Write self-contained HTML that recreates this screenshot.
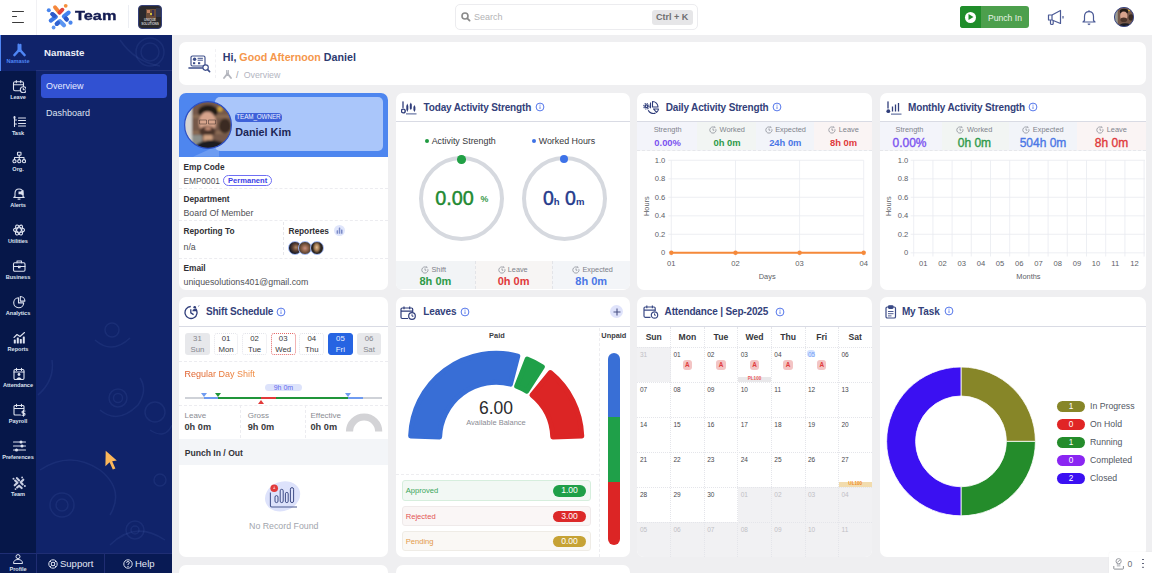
<!DOCTYPE html>
<html><head><meta charset="utf-8">
<style>
*{box-sizing:border-box;margin:0;padding:0}
html,body{width:1152px;height:573px;overflow:hidden}
body{background:#efeff1;font-family:"Liberation Sans",Arial,sans-serif;position:relative;color:#222}
.abs{position:absolute}
#hdr{left:0;top:0;width:1152px;height:35px;background:#fff}
#rail{left:0;top:35px;width:36px;height:538px;background:#061749}
#panel{left:36px;top:35px;width:136px;height:538px;background:#10236a}
.rl{left:0;width:36px;text-align:center;font:5.6px/6px 'Liberation Sans',sans-serif;font-weight:bold;white-space:nowrap;letter-spacing:-0.05px}
.pl{left:4.5px;font:bold 8.3px/10px 'Liberation Sans',sans-serif;color:#303035;white-space:nowrap}
.pv{left:4.5px;font:8.8px/10px 'Liberation Sans',sans-serif;color:#505055;white-space:nowrap}
.ct{font:bold 10px/12px 'Liberation Sans',sans-serif;color:#33417a;white-space:nowrap;letter-spacing:-0.15px}
.sl{font:7.3px/8px 'Liberation Sans',sans-serif;color:#7d8089;white-space:nowrap}
.sv{font:bold 11px/12px 'Liberation Sans',sans-serif;text-align:center;white-space:nowrap}
.sl2{font:7.4px/8px 'Liberation Sans',sans-serif;color:#80838c;white-space:nowrap;text-align:center}
.svd{top:44.4px;font:bold 9.4px/11px 'Liberation Sans',sans-serif;text-align:center;white-space:nowrap}
.svm{top:43.4px;font:12px/14px 'Liberation Sans',sans-serif;text-align:center;white-space:nowrap;-webkit-text-stroke:0.35px currentColor}
.pill{width:24.8px;height:22.4px;border-radius:3px;font:7.8px/9.6px 'Liberation Sans',sans-serif;text-align:center;padding-top:0px;border:1px solid transparent}
.pill div+div{margin-top:1.2px}
.card{position:absolute;background:#fff;border-radius:7px;overflow:hidden}
</style></head><body>
<div id="hdr" class="abs">
<div class="abs" style="left:12px;top:10.6px;width:12px;height:1.4px;background:#3a3a3a;border-radius:1px"></div>
<div class="abs" style="left:12px;top:16.1px;width:5px;height:1.4px;background:#3a3a3a;border-radius:1px"></div>
<div class="abs" style="left:12px;top:21.6px;width:12px;height:1.4px;background:#3a3a3a;border-radius:1px"></div>
<div class="abs" style="left:36px;top:0;width:1px;height:35px;background:#f1f1f4"></div>
<svg class="abs" style="left:45px;top:2px" width="30" height="29" viewBox="45 2 30 29">
 <g stroke-linecap="round" stroke-linejoin="round" fill="none">
  <path d="M52.4 14.1 L55.8 16.8 L50.8 20.6" stroke="#3d78e6" stroke-width="4.2"/>
  <path d="M52.4 14.1 L54.5 15.8" stroke="#2d58c8" stroke-width="4.2"/>
  <path d="M68.6 12.6 L63.9 16.4 L66.7 19.4" stroke="#4382ee" stroke-width="4.2"/>
  <path d="M66 18.6 L66.7 19.4" stroke="#2d58c8" stroke-width="4.2"/>
  <path d="M56.8 23.8 L59.9 21.1 L64 25.3" stroke="#5b95f1" stroke-width="4.2"/>
  <path d="M56.8 23.8 L58 22.8" stroke="#2f62d2" stroke-width="4.2"/>
  <path d="M55 7.3 L59.3 12.4" stroke="#f5873a" stroke-width="3.9"/>
  <path d="M59.6 12.6 L62.4 9.7" stroke="#e2453e" stroke-width="3.9"/>
 </g>
 <circle cx="48.8" cy="10.3" r="2" fill="#4a86ee"/>
 <circle cx="53.6" cy="27.5" r="1.9" fill="#5c94f1"/>
 <circle cx="70.5" cy="22.7" r="2.1" fill="#4a86ee"/>
 <circle cx="65.7" cy="5.8" r="1.9" fill="#f5903c"/>
</svg>
<div class="abs" style="left:74.6px;top:8px;font:bold 13.6px/16px 'Liberation Sans',sans-serif;color:#141c52;transform:scaleX(1.2);transform-origin:0 0;-webkit-text-stroke:0.35px #141c52">Team</div>
<div class="abs" style="left:128px;top:5px;width:1px;height:23px;background:#eceef3"></div>
<div class="abs" style="left:138px;top:5px;width:24px;height:23.5px;border-radius:4px;background:#2a292d;border:1px solid #34407a;overflow:hidden">
 <div class="abs" style="left:6.5px;top:2.5px;width:10px;height:10.5px;background:#6a4c38"></div>
 <div class="abs" style="left:8px;top:4px;width:3px;height:3px;background:#c08060"></div>
 <div class="abs" style="left:11px;top:7px;width:2px;height:2px;background:#d0c040"></div>
 <div class="abs" style="left:13px;top:4px;width:2px;height:6px;background:#3a3050"></div>
 <div class="abs" style="left:16.5px;top:2px;width:5px;height:9px;background:#343a56;opacity:0.8"></div>
 <div class="abs" style="left:0;width:22px;top:13.2px;font:bold 3.2px/3.4px 'Liberation Sans',sans-serif;color:#c8c8c8;text-align:center;letter-spacing:-0.1px">UNIQUE<br>SOLUTIONS</div>
</div>
<div class="abs" style="left:455px;top:4px;width:243px;height:26px;border:1px solid #ececef;border-radius:5px;background:#fff"></div>
<svg class="abs" style="left:461px;top:12px" width="10" height="10" viewBox="0 0 10 10"><circle cx="4" cy="4" r="3" stroke="#8a8a8a" stroke-width="1.6" fill="none"/><path d="M6.3 6.3 L8.6 8.6" stroke="#8a8a8a" stroke-width="1.8" stroke-linecap="round"/></svg>
<div class="abs" style="left:474px;top:12px;font:9px/10px 'Liberation Sans',sans-serif;color:#b3b3b6">Search</div>
<div class="abs" style="left:652px;top:10px;width:40.5px;height:15px;background:#e6e6e8;border-radius:3px;font:bold 9px/15px 'Liberation Sans',sans-serif;color:#6e6e70;text-align:center">Ctrl + K</div>
<div class="abs" style="left:959.5px;top:6px;width:69.5px;height:22px;border-radius:3px;background:#4c9f4c;overflow:hidden">
 <div class="abs" style="left:0;top:0;width:21.5px;height:22px;background:#1f8d2a"></div>
 <div class="abs" style="left:5.3px;top:5.5px;width:11px;height:11px;border-radius:50%;background:#fff"></div>
 <svg class="abs" style="left:8.5px;top:8px" width="6" height="6" viewBox="0 0 6 6"><path d="M0.5 0 L5.5 3 L0.5 6Z" fill="#1f8d2a"/></svg>
 <div class="abs" style="left:28.5px;top:6.7px;font:8.6px/10px 'Liberation Sans',sans-serif;color:#e9f3e9">Punch In</div>
</div>
<svg class="abs" style="left:1047px;top:9px" width="18" height="17" viewBox="0 0 18 17" fill="none" stroke="#4b5a96" stroke-width="1.2" stroke-linejoin="round">
 <path d="M1.5 6 H5 L13.5 1.5 V14.5 L5 11 H1.5 Z"/><path d="M5 6 V11"/><path d="M3.5 11 V14.5 Q3.5 15.5 4.8 15.5 Q6.2 15.5 6.2 14.5 V12"/><path d="M16 7 V9.5"/>
</svg>
<svg class="abs" style="left:1081px;top:9px" width="16" height="17" viewBox="0 0 16 17" fill="none" stroke="#4b5a96" stroke-width="1.2" stroke-linejoin="round">
 <path d="M8 1.2 V2.4"/><path d="M3.5 11.5 V7.5 Q3.5 2.6 8 2.6 Q12.5 2.6 12.5 7.5 V11.5 L14 13 H2 Z"/><path d="M6.8 14.6 L8 15.6 L9.2 14.6"/>
</svg>
<svg class="abs" style="left:1113.8px;top:7.2px" width="20" height="20" viewBox="0 0 48 48">
<defs><clipPath id="avc2"><circle cx="24" cy="24" r="23.4"/></clipPath><filter id="avb2" x="-10%" y="-10%" width="120%" height="120%"><feGaussianBlur stdDeviation="1.6"/></filter></defs>
<g clip-path="url(#avc2)"><g filter="url(#avb2)">
<rect x="0" y="0" width="48" height="48" fill="#75584a"/>
<rect x="0" y="0" width="9" height="48" fill="#9a9a92"/>
<ellipse cx="41" cy="25" rx="6" ry="7.5" fill="#3a2c22"/>
<circle cx="36" cy="8" r="2.6" fill="#d2a840"/>
<ellipse cx="24" cy="10.5" rx="10" ry="6.5" fill="#231b18"/>
<ellipse cx="23.5" cy="21.5" rx="8.6" ry="11" fill="#d7a48c"/>
<ellipse cx="23.5" cy="30.5" rx="8" ry="5.5" fill="#4c342a"/>
<ellipse cx="27" cy="51" rx="18" ry="12" fill="#1c1d24"/>
</g></g>
<circle cx="24" cy="24" r="23" fill="none" stroke="#3c4a8a" stroke-width="2.4"/>
</svg>
</div>
<div id="panel" class="abs"></div>
<svg class="abs" style="left:36px;top:35px" width="136" height="518" viewBox="36 35 136 518" fill="none" stroke="rgba(120,145,225,0.10)" stroke-width="1.5">
<circle cx="150" cy="52" r="14"/><circle cx="150" cy="52" r="9"/><path d="M120 40 Q135 62 160 66"/>
<circle cx="112" cy="330" r="7"/><path d="M95 340 Q112 355 130 338"/>
<circle cx="118" cy="398" r="9"/><circle cx="118" cy="398" r="4.5"/><path d="M100 410 Q118 425 138 405 Q148 390 140 378"/>
<circle cx="155" cy="412" r="10"/><path d="M150 430 Q165 440 172 425"/>
<path d="M40 470 Q70 450 100 470 Q125 490 110 515"/><circle cx="62" cy="505" r="12"/><circle cx="62" cy="505" r="6"/>
<circle cx="135" cy="530" r="9"/><circle cx="135" cy="530" r="4"/><path d="M110 545 Q135 520 165 540"/>
<path d="M38 395 Q55 380 52 360"/><circle cx="160" cy="480" r="6"/>
</svg>
<div class="abs" style="left:44px;top:47px;font:bold 9.7px/12px 'Liberation Sans',sans-serif;color:#eef0f8">Namaste</div>
<div class="abs" style="left:36px;top:70px;width:136px;height:1px;background:#23337a"></div>
<div class="abs" style="left:41px;top:73.5px;width:126px;height:24.5px;border-radius:3.5px;background:#3151d2"></div>
<div class="abs" style="left:46px;top:80.5px;font:9px/10px 'Liberation Sans',sans-serif;color:#e6ebff">Overview</div>
<div class="abs" style="left:46px;top:107.7px;font:9px/10px 'Liberation Sans',sans-serif;color:#dfe3f0">Dashboard</div>
<svg class="abs" style="left:104px;top:449px" width="16" height="22" viewBox="104 449 16 22"><path d="M105.7 450.7 L105.4 466.3 L109.6 462.3 L112.8 469.6 L115.4 468.4 L112.2 461.2 L116.8 460.6 Z" fill="#fbb75a"/></svg>
<div id="rail" class="abs"></div>
<div class="abs" style="left:0;top:35px;width:36px;height:36px;background:#10236a;border-left:1.5px solid #4f86f5"></div>
<svg class="abs" style="left:11.5px;top:42.5px" width="14" height="14" viewBox="-0.5 -0.5 14 14"><path d="M6 1 V6.5 M8 1.3 V6.5" stroke="#4f86f5" stroke-width="2" stroke-linecap="round"/><path d="M7 6 L2 11.5 M7 6 L12 11.5" stroke="#4f86f5" stroke-width="2.6" stroke-linecap="round"/></svg>
<div class="abs rl" style="top:57.5px;color:#4f86f5">Namaste</div>
<svg class="abs" style="left:11.5px;top:78.50px" width="14" height="14" viewBox="-0.5 -0.5 14 14"><g fill="none" stroke="#dde2ef" stroke-width="1.1" stroke-linecap="round" stroke-linejoin="round"><rect x="1" y="2.2" width="10" height="9" rx="1.5"/><path d="M1 5.2 H11 M3.8 1 V3.2 M8.2 1 V3.2"/></g><circle cx="10.8" cy="10.2" r="3" fill="#061749" stroke="#dde2ef" stroke-width="1.1"/><path d="M10.8 8.8 V10.3 H12" fill="none" stroke="#dde2ef" stroke-width="1.1" stroke-linecap="round" stroke-linejoin="round"/></svg>
<div class="abs rl" style="top:93.50px;color:#dde2ef">Leave</div>
<svg class="abs" style="left:11.5px;top:114.59px" width="14" height="14" viewBox="-0.5 -0.5 14 14"><g fill="none" stroke="#dde2ef" stroke-width="1.1" stroke-linecap="round" stroke-linejoin="round"><path d="M2 1 V11 M2 4.5 H4 M2 8.5 H4 M6 2.5 H13 M6 5 H13 M6 8 H13 M6 10.5 H13"/></g><rect x="1" y="1" width="2" height="2" fill="#dde2ef"/></svg>
<div class="abs rl" style="top:129.59px;color:#dde2ef">Task</div>
<svg class="abs" style="left:11.5px;top:150.68px" width="14" height="14" viewBox="-0.5 -0.5 14 14"><g fill="none" stroke="#dde2ef" stroke-width="1.1" stroke-linecap="round" stroke-linejoin="round"><rect x="5" y="0.8" width="3.5" height="3" rx="0.5"/><path d="M6.75 3.8 V6 M2 8 V6 H11.5 V8 M6.75 6 V8"/><circle cx="2" cy="9.7" r="1.6"/><circle cx="6.75" cy="9.7" r="1.6"/><circle cx="11.5" cy="9.7" r="1.6"/></g></svg>
<div class="abs rl" style="top:165.68px;color:#dde2ef">Org.</div>
<svg class="abs" style="left:11.5px;top:186.77px" width="14" height="14" viewBox="-0.5 -0.5 14 14"><g fill="none" stroke="#dde2ef" stroke-width="1.1" stroke-linecap="round" stroke-linejoin="round"><path d="M2.5 9 V6 Q2.5 1.5 6.5 1.5 Q10.5 1.5 10.5 6 V9 L11.7 10 H1.3 Z"/><path d="M5.5 11.6 H7.5"/></g><path d="M6 4 H8 L11 2.5 V8 L8 6.8 H6 Z" fill="#dde2ef"/></svg>
<div class="abs rl" style="top:201.77px;color:#dde2ef">Alerts</div>
<svg class="abs" style="left:11.5px;top:222.86px" width="14" height="14" viewBox="-0.5 -0.5 14 14"><g fill="none" stroke="#dde2ef" stroke-width="1.1" stroke-linecap="round" stroke-linejoin="round"><ellipse cx="6.5" cy="6.5" rx="5.5" ry="2.3"/><ellipse cx="6.5" cy="6.5" rx="5.5" ry="2.3" transform="rotate(60 6.5 6.5)"/><ellipse cx="6.5" cy="6.5" rx="5.5" ry="2.3" transform="rotate(120 6.5 6.5)"/></g></svg>
<div class="abs rl" style="top:237.86px;color:#dde2ef">Utilities</div>
<svg class="abs" style="left:11.5px;top:258.95px" width="14" height="14" viewBox="-0.5 -0.5 14 14"><g fill="none" stroke="#dde2ef" stroke-width="1.1" stroke-linecap="round" stroke-linejoin="round"><rect x="1" y="3.3" width="11.5" height="8.5" rx="1.2"/><path d="M4.5 3.3 V1.5 H9 V3.3 M1 7 H12.5 M6 6.5 V8.3 H7.5 V6.5"/></g></svg>
<div class="abs rl" style="top:273.95px;color:#dde2ef">Business</div>
<svg class="abs" style="left:11.5px;top:295.05px" width="14" height="14" viewBox="-0.5 -0.5 14 14"><g fill="none" stroke="#dde2ef" stroke-width="1.1" stroke-linecap="round" stroke-linejoin="round"><path d="M6 2.2 A5 5 0 1 0 11.2 7.4 H6 Z"/><path d="M7.8 1 A4.6 4.6 0 0 1 12.4 5.6 H7.8 Z"/></g></svg>
<div class="abs rl" style="top:310.05px;color:#dde2ef">Analytics</div>
<svg class="abs" style="left:11.5px;top:331.14px" width="14" height="14" viewBox="-0.5 -0.5 14 14"><g fill="none" stroke="#dde2ef" stroke-width="1.1" stroke-linecap="round" stroke-linejoin="round"><path d="M1.5 6 L4.5 3 L7.5 5 L12 1"/></g><g fill="#dde2ef"><rect x="1.3" y="8" width="2" height="4" rx="0.6"/><rect x="4.3" y="6" width="2" height="6" rx="0.6"/><rect x="7.3" y="7.5" width="2" height="4.5" rx="0.6"/><rect x="10.3" y="5" width="2" height="7" rx="0.6"/></g></svg>
<div class="abs rl" style="top:346.14px;color:#dde2ef">Reports</div>
<svg class="abs" style="left:11.5px;top:367.23px" width="14" height="14" viewBox="-0.5 -0.5 14 14"><g fill="none" stroke="#dde2ef" stroke-width="1.1" stroke-linecap="round" stroke-linejoin="round"><rect x="1.5" y="2" width="10" height="10" rx="1.2"/><path d="M4 0.8 V3 M9 0.8 V3 M1.5 4.5 H11.5"/></g><circle cx="6.5" cy="7" r="1.4" fill="#dde2ef"/><path d="M3.8 11.5 Q6.5 7.8 9.2 11.5Z" fill="#dde2ef"/></svg>
<div class="abs rl" style="top:382.23px;color:#dde2ef">Attendance</div>
<svg class="abs" style="left:11.5px;top:403.32px" width="14" height="14" viewBox="-0.5 -0.5 14 14"><g fill="none" stroke="#dde2ef" stroke-width="1.1" stroke-linecap="round" stroke-linejoin="round"><path d="M8 11.5 H2.5 Q1.5 11.5 1.5 10.5 V3 Q1.5 2 2.5 2 H10.5 Q11.5 2 11.5 3 V6 M1.5 5 H11.5 M4 0.8 V3 M9 0.8 V3"/><path d="M12.5 7.5 H10.5 Q9.5 7.5 9.5 8.6 Q9.5 9.6 10.5 9.6 H11.5 Q12.5 9.6 12.5 10.7 Q12.5 11.8 11.5 11.8 H9.5 M11 6.8 V12.6"/></g></svg>
<div class="abs rl" style="top:418.32px;color:#dde2ef">Payroll</div>
<svg class="abs" style="left:11.5px;top:439.41px" width="14" height="14" viewBox="-0.5 -0.5 14 14"><g fill="none" stroke="#dde2ef" stroke-width="1.1" stroke-linecap="round" stroke-linejoin="round"><path d="M1 2.5 H13 M1 6.5 H13 M1 10.5 H13"/></g><g fill="#dde2ef"><circle cx="8.5" cy="2.5" r="1.5"/><circle cx="9.5" cy="6.5" r="1.5"/><circle cx="4" cy="10.5" r="1.5"/></g></svg>
<div class="abs rl" style="top:454.41px;color:#dde2ef">Preferences</div>
<svg class="abs" style="left:11.5px;top:475.50px" width="14" height="14" viewBox="-0.5 -0.5 14 14"><g stroke="#c9cfe2" stroke-width="2.1" stroke-linecap="round" stroke-linejoin="round" fill="none"><path d="M2.6 4 L5 6.2 L2.2 8.8"/><path d="M10.8 3.2 L8.2 5.8 L10.2 8"/><path d="M4.6 11 L6.6 9.2 L9.2 11.6"/><path d="M4.4 1.6 L6.6 4"/></g><g fill="#c9cfe2"><circle cx="1" cy="2.2" r="1"/><circle cx="9.6" cy="1" r="0.9"/><circle cx="12.4" cy="9.6" r="1"/><circle cx="3" cy="12.6" r="0.9"/></g></svg>
<div class="abs rl" style="top:490.50px;color:#dde2ef">Team</div>

<div class="abs" style="left:0;top:552.5px;width:172px;height:20.5px;background:#081a54;border-top:1px solid #1f2e74"></div>
<div class="abs" style="left:36px;top:553px;width:1px;height:20px;background:#1f2d72"></div>
<div class="abs" style="left:104px;top:553px;width:1px;height:20px;background:#1f2d72"></div>
<svg class="abs" style="left:12px;top:554px" width="12" height="10" viewBox="0 0 12 10" fill="none" stroke="#dde2ef" stroke-width="1"><circle cx="6" cy="2.6" r="2"/><path d="M1.5 9.5 Q1.5 5.5 6 5.5 Q10.5 5.5 10.5 9.5 Z"/></svg>
<div class="abs rl" style="top:566.2px;color:#dde2ef">Profile</div>
<svg class="abs" style="left:47.5px;top:559px" width="10" height="10" viewBox="0 0 10 10" fill="none" stroke="#dde2ef" stroke-width="1"><circle cx="5" cy="5" r="4.2"/><circle cx="5" cy="5" r="1.8"/><path d="M2 2 L3.7 3.7 M8 2 L6.3 3.7 M2 8 L3.7 6.3 M8 8 L6.3 6.3"/></svg>
<div class="abs" style="left:60px;top:559px;font:9.5px/10px 'Liberation Sans',sans-serif;color:#e4e8f4">Support</div>
<svg class="abs" style="left:122.5px;top:559px" width="10" height="10" viewBox="0 0 10 10" fill="none" stroke="#dde2ef" stroke-width="1"><circle cx="5" cy="5" r="4.2"/><path d="M3.6 3.8 Q3.6 2.5 5 2.5 Q6.4 2.5 6.4 3.7 Q6.4 4.6 5 5.2 V6"/><circle cx="5" cy="7.4" r="0.3"/></svg>
<div class="abs" style="left:135px;top:559px;font:9.5px/10px 'Liberation Sans',sans-serif;color:#e4e8f4">Help</div>



<div class="card" style="left:179px;top:42px;width:967px;height:43px">
<svg class="abs" style="left:9px;top:13px" width="23" height="18" viewBox="0 0 23 18" fill="none" stroke="#3d4e8a" stroke-width="1.15" stroke-linecap="round" stroke-linejoin="round">
 <rect x="3" y="1" width="14" height="10" rx="1.5"/>
 <circle cx="6.6" cy="4.3" r="1.7" fill="#3d4e8a" stroke="none"/>
 <path d="M10 3.3 H14.5 M10 5.2 H14.5" stroke-width="1"/>
 <rect x="5" y="7.2" width="2.2" height="2" fill="#3d4e8a" stroke="none"/><rect x="10" y="7.2" width="2.2" height="2" fill="#3d4e8a" stroke="none"/>
 <path d="M1 13 H15.5" stroke-width="1.6"/>
 <circle cx="17.6" cy="12.6" r="2.7" fill="#fff"/><path d="M19.6 14.6 L21.6 16.6" stroke-width="1.6"/>
</svg>
<div class="abs" style="left:36px;top:7px;width:0;height:29px;border-left:1px dashed #f1f1f4"></div>
<div class="abs" style="left:43.7px;top:8.5px;font:bold 10.7px/13px 'Liberation Sans',sans-serif;color:#2d3a70;white-space:nowrap">Hi, <span style="color:#f5974b">Good Afternoon</span> Daniel</div>
<svg class="abs" style="left:43.5px;top:28px" width="9" height="9" viewBox="0 0 9 9"><path d="M3.7 0.5 V4 M5.3 0.5 V4" stroke="#b4b6be" stroke-width="1.2" stroke-linecap="round"/><path d="M4.5 3.6 L1 8 M4.5 3.6 L8 8" stroke="#b4b6be" stroke-width="1.8" stroke-linecap="round"/></svg>
<div class="abs" style="left:57px;top:28px;font:8.8px/10px 'Liberation Sans',sans-serif;color:#9a9ca6">/</div>
<div class="abs" style="left:64.7px;top:28px;font:8.8px/10px 'Liberation Sans',sans-serif;color:#b3b5bf">Overview</div>
</div>
<div class="card" style="left:179px;top:93px;width:209px;height:196.5px">
<div class="abs" style="left:0;top:0;width:209px;height:63.7px;background:#4e86ef"></div>
<svg class="abs" style="left:0;top:0" width="60" height="64" viewBox="0 0 60 64"><path d="M14 63.7 L40 52 L40 63.7Z" fill="#6d9cf2"/></svg>
<div class="abs" style="left:35.8px;top:4.3px;width:168px;height:54px;border-radius:5px;background:#aac6fa"></div>
<svg class="abs" style="left:4.5px;top:8px" width="48" height="48" viewBox="0 0 48 48">
<defs><clipPath id="avc"><circle cx="24" cy="24" r="23.4"/></clipPath><filter id="avb" x="-10%" y="-10%" width="120%" height="120%"><feGaussianBlur stdDeviation="1"/></filter></defs>
<g clip-path="url(#avc)"><g filter="url(#avb)">
<rect x="0" y="0" width="48" height="48" fill="#75584a"/>
<rect x="0" y="0" width="8" height="48" fill="#d6d4d2"/>
<rect x="8" y="14" width="40" height="3" fill="#8a6a52"/>
<rect x="8" y="30" width="40" height="3" fill="#8c6c54"/>
<ellipse cx="41" cy="25" rx="6" ry="7.5" fill="#3a2c22"/>
<circle cx="36" cy="8" r="2.6" fill="#d2a840"/>
<rect x="8" y="34" width="10" height="14" fill="#8d8f8a"/>
<ellipse cx="24" cy="10.5" rx="10" ry="6.5" fill="#231b18"/>
<ellipse cx="23.5" cy="21.5" rx="8.6" ry="11" fill="#d7a48c"/>
<ellipse cx="23.5" cy="30.5" rx="8" ry="5.5" fill="#4c342a"/>
<ellipse cx="24" cy="27.6" rx="3.2" ry="1.6" fill="#c99078"/>
<rect x="19.5" y="34" width="9" height="7" fill="#cfa080"/>
<ellipse cx="27" cy="51" rx="18" ry="12" fill="#1c1d24"/>
</g>
<path d="M15.5 19 H22.5 V23 H15.5Z M24.5 19 H31.5 V23 H24.5Z" fill="none" stroke="#4a3630" stroke-width="0.7" opacity="0.8"/>
</g>
<circle cx="24" cy="24" r="23.4" fill="none" stroke="#2d4fc2" stroke-width="1.2"/>
</svg>
<div class="abs" style="left:56px;top:20px;width:46.8px;height:8.7px;border-radius:4px;background:#3e62d9;font:6.3px/8.7px 'Liberation Sans',sans-serif;color:#eef2ff;text-align:center;letter-spacing:-0.1px">TEAM_OWNER</div>
<div class="abs" style="left:56.2px;top:32.5px;font:bold 10.8px/13px 'Liberation Sans',sans-serif;color:#1c2655;white-space:nowrap">Daniel Kim</div>
<div class="abs pl" style="top:69.2px">Emp Code</div>
<div class="abs pv" style="top:82.7px;font-size:8.3px">EMP0001</div>
<div class="abs" style="left:44.4px;top:81.5px;width:48.4px;height:11.6px;border:1px solid #6f6ff3;border-radius:6px;font:bold 7.6px/9.6px 'Liberation Sans',sans-serif;color:#3c3ee6;text-align:center">Permanent</div>
<div class="abs" style="left:0;top:95.3px;width:209px;border-top:1px dashed #ececf0"></div>
<div class="abs pl" style="top:101.0px">Department</div>
<div class="abs pv" style="top:114.7px">Board Of Member</div>
<div class="abs" style="left:0;top:127px;width:209px;border-top:1px dashed #ececf0"></div>
<div class="abs pl" style="top:133.2px">Reporting To</div>
<div class="abs" style="left:104px;top:129px;height:33px;border-left:1px dashed #e6e6ea"></div>
<div class="abs pl" style="top:133.2px;left:109.4px">Reportees</div>
<div class="abs" style="left:154.5px;top:131.5px;width:11px;height:11px;border-radius:50%;background:#dfe5fb"></div>
<svg class="abs" style="left:156.5px;top:133.5px" width="7" height="7" viewBox="0 0 7 7" fill="#7c8cc8"><rect x="0.6" y="3.2" width="1.5" height="3.6" rx="0.5"/><rect x="2.8" y="0.4" width="1.5" height="6.4" rx="0.5"/><rect x="5" y="2.4" width="1.5" height="4.4" rx="0.5"/></svg>
<div class="abs pv" style="top:148.7px">n/a</div>
<div class="abs" style="left:108.5px;top:148px;width:14px;height:14px;border-radius:50%;border:1px solid #9fb6f0;background:radial-gradient(circle at 58% 45%,#b08868 0,#6a4a38 30%,#151826 68%)"></div>
<div class="abs" style="left:119px;top:148px;width:14px;height:14px;border-radius:50%;border:1px solid #9fb6f0;background:radial-gradient(circle at 50% 52%,#c89080 0,#8a6048 38%,#3a3028 78%)"></div>
<div class="abs" style="left:130.5px;top:148px;width:14px;height:14px;border-radius:50%;border:1px solid #9fb6f0;background:radial-gradient(ellipse 35% 50% at 48% 45%,#e6c096 0,#a07850 55%,#2a2420 100%)"></div>
<div class="abs" style="left:0;top:165.3px;width:209px;border-top:1px dashed #ececf0"></div>
<div class="abs pl" style="top:170.0px">Email</div>
<div class="abs pv" style="top:183.8px">uniquesolutions401@gmail.com</div>
</div>
<div class="card" style="left:396px;top:93px;width:234px;height:196.5px">
<svg class="abs" style="left:4.5px;top:7.5px" width="16" height="14" viewBox="0 0 16 14"><path d="M2 0.8 V6.5" stroke="#2f3d7a" stroke-width="1.3" stroke-linecap="round"/><circle cx="2.3" cy="10" r="1.9" fill="none" stroke="#2f3d7a" stroke-width="1.4"/>
<path d="M6.3 2.5 L7.3 5 L7.3 8.5 L6.3 11 L5.3 8.5 L5.3 5Z M9.8 1.5 L10.8 3.5 L10.8 7.5 L9.8 9 L8.8 7.5 L8.8 3.5Z M13.4 4 L14.4 6 L14.4 9 L13.4 11 L12.4 9 L12.4 6Z" fill="#2f3d7a"/><path d="M5 12.8 H15.5" stroke="#6b78a6" stroke-width="1.3"/></svg>
<div class="abs ct" style="left:27.5px;top:8.5px">Today Activity Strength</div>
<svg class="abs" style="left:138.8px;top:9.2px" width="10" height="10" viewBox="0 0 10 10"><circle cx="5" cy="5" r="3.9" fill="none" stroke="#5577ea" stroke-width="1"/><path d="M5 4.4 V7" stroke="#5577ea" stroke-width="0.9"/><circle cx="5" cy="3.1" r="0.55" fill="#5577ea"/></svg>
<div class="abs" style="left:0;top:28.2px;width:234px;height:1.2px;background:#d9dbe4"></div>
<div class="abs" style="left:28.5px;top:46px;width:4.2px;height:4.2px;border-radius:50%;background:#1f9a40"></div>
<div class="abs" style="left:35.7px;top:43.2px;font:8.9px/10px 'Liberation Sans',sans-serif;color:#36383c;white-space:nowrap">Activity Strength</div>
<div class="abs" style="left:135.6px;top:46px;width:4.2px;height:4.2px;border-radius:50%;background:#3e72e6"></div>
<div class="abs" style="left:142.7px;top:43.2px;font:8.9px/10px 'Liberation Sans',sans-serif;color:#36383c;white-space:nowrap">Worked Hours</div>
<div class="abs" style="left:23px;top:63.2px;width:85px;height:85px;border-radius:50%;border:4.6px solid #d6d9df"></div>
<div class="abs" style="left:61.3px;top:62px;width:8.5px;height:8.5px;border-radius:50%;background:#21a045"></div>
<div class="abs" style="left:125.6px;top:63.2px;width:85px;height:85px;border-radius:50%;border:4.6px solid #d6d9df"></div>
<div class="abs" style="left:163.6px;top:61.6px;width:8.5px;height:8.5px;border-radius:50%;background:#3d72e8"></div>
<div class="abs" style="left:39.2px;top:94.5px;font:19.8px/20px 'Liberation Sans',sans-serif;color:#1f8a32;white-space:nowrap;-webkit-text-stroke:0.45px #1f8a32">0.00</div>
<div class="abs" style="left:84.6px;top:101.6px;font:bold 8.8px/9px 'Liberation Sans',sans-serif;color:#3a9a4c">%</div>
<div class="abs" style="left:147px;top:94.5px;font:19.5px/20px 'Liberation Sans',sans-serif;color:#253a8c;white-space:nowrap;-webkit-text-stroke:0.45px #253a8c">0<span style="font-size:9.5px;font-weight:bold;-webkit-text-stroke:0">h</span> 0<span style="font-size:9.5px;font-weight:bold;-webkit-text-stroke:0">m</span></div>
<div class="abs" style="left:0;top:168.2px;width:78.8px;height:28.3px;background:#f2f4f6"></div><div class="abs" style="left:78.8px;top:168.2px;width:77.6px;height:28.3px;background:#f7f5f4"></div><div class="abs" style="left:156.4px;top:168.2px;width:77.6px;height:28.3px;background:#f3f5f8"></div>
<div class="abs" style="left:78.8px;top:168.2px;width:0;height:28.3px;border-left:1px dashed #e3e4e8"></div>
<div class="abs" style="left:156.4px;top:168.2px;width:0;height:28.3px;border-left:1px dashed #e3e4e8"></div>
<svg class="abs" style="left:25.4px;top:173px" width="8" height="8" viewBox="0 0 8 8" fill="none" stroke="#8c8f98" stroke-width="0.8"><path d="M6.9 3.2 A3.1 3.1 0 1 1 5.2 1.2"/><path d="M4 2.4 V4.2 H5.3"/><path d="M5.6 0.4 L5.4 1.4 L6.5 1.7"/></svg><div class="abs sl" style="left:35.5px;top:172.6px">Shift</div>
<div class="abs sv" style="left:0;width:78.8px;top:182px;color:#2e9a48">8h 0m</div>
<svg class="abs" style="left:101.5px;top:173px" width="8" height="8" viewBox="0 0 8 8" fill="none" stroke="#8c8f98" stroke-width="0.8"><path d="M6.9 3.2 A3.1 3.1 0 1 1 5.2 1.2"/><path d="M4 2.4 V4.2 H5.3"/><path d="M5.6 0.4 L5.4 1.4 L6.5 1.7"/></svg><div class="abs sl" style="left:111.8px;top:172.6px">Leave</div>
<div class="abs sv" style="left:78.8px;width:77.6px;top:182px;color:#e0393b">0h 0m</div>
<svg class="abs" style="left:176.4px;top:173px" width="8" height="8" viewBox="0 0 8 8" fill="none" stroke="#8c8f98" stroke-width="0.8"><path d="M6.9 3.2 A3.1 3.1 0 1 1 5.2 1.2"/><path d="M4 2.4 V4.2 H5.3"/><path d="M5.6 0.4 L5.4 1.4 L6.5 1.7"/></svg><div class="abs sl" style="left:186.5px;top:172.6px">Expected</div>
<div class="abs sv" style="left:156.4px;width:77.6px;top:182px;color:#4a77e6">8h 0m</div>
</div>
<div class="card" style="left:637px;top:93px;width:235px;height:196.5px">
<svg class="abs" style="left:6px;top:7px" width="17" height="16" viewBox="0 0 17 16" fill="none" stroke="#2f3d7a" stroke-width="1.1" stroke-linejoin="round"><circle cx="3.5" cy="6.3" r="2" fill="#2f3d7a" stroke="none"/><circle cx="3.5" cy="6.3" r="2.7" stroke-width="1.2" stroke-dasharray="1.2 0.9"/><circle cx="3.5" cy="6.3" r="0.7" fill="#fff" stroke="none"/><path d="M7.5 2.5 V8.2 M5.2 10.2 A5.6 5.6 0 0 0 12.6 13"/><path d="M9.5 1.5 V7 H15 A5.5 5.5 0 0 0 9.5 1.5 Z"/><path d="M10.5 9 H15.5 A5.5 5.5 0 0 1 13.6 12.4 Z"/></svg><svg class="abs" style="left:134.7px;top:9.2px" width="10" height="10" viewBox="0 0 10 10"><circle cx="5" cy="5" r="3.9" fill="none" stroke="#5577ea" stroke-width="1"/><path d="M5 4.4 V7" stroke="#5577ea" stroke-width="0.9"/><circle cx="5" cy="3.1" r="0.55" fill="#5577ea"/></svg>
<div class="abs ct" style="left:28.7px;top:8.5px">Daily Activity Strength</div>
<div class="abs" style="left:0;top:28.2px;width:235px;height:1.2px;background:#d9dbe4"></div>
<div class="abs" style="left:0;top:29.4px;width:235px;height:29px;background:#f5f6f8;border-bottom:1px dashed #e6e7eb"></div>
<div class="abs" style="left:0.0px;top:29.4px;width:60.3px;height:28px;background:#f3f4fa"></div>
<div class="abs" style="left:60.3px;top:29.4px;width:58.9px;height:28px;background:#f2f5f3"></div>
<div class="abs" style="left:119.1px;top:29.4px;width:58.2px;height:28px;background:#f2f4f9"></div>
<div class="abs" style="left:177.4px;top:29.4px;width:57.6px;height:28px;background:#faf4f4"></div>
<div class="abs sl2" style="left:-9.399999999999977px;width:80px;top:32.8px">Strength</div>
<div class="abs svd" style="left:-9.399999999999977px;width:80px;color:#7a52f0">0.00%</div>
<div class="abs sl2" style="left:50px;width:80px;top:32.8px"><svg width="8" height="8" viewBox="0 0 8 8" style="vertical-align:top;margin-right:2.5px" fill="none" stroke="#8c8f98" stroke-width="0.8"><path d="M6.9 3.2 A3.1 3.1 0 1 1 5.2 1.2"/><path d="M4 2.4 V4.2 H5.3"/><path d="M5.6 0.4 L5.4 1.4 L6.5 1.7"/></svg>Worked</div>
<div class="abs svd" style="left:50px;width:80px;color:#2e9a48">0h 0m</div>
<div class="abs sl2" style="left:108.29999999999995px;width:80px;top:32.8px"><svg width="8" height="8" viewBox="0 0 8 8" style="vertical-align:top;margin-right:2.5px" fill="none" stroke="#8c8f98" stroke-width="0.8"><path d="M6.9 3.2 A3.1 3.1 0 1 1 5.2 1.2"/><path d="M4 2.4 V4.2 H5.3"/><path d="M5.6 0.4 L5.4 1.4 L6.5 1.7"/></svg>Expected</div>
<div class="abs svd" style="left:108.29999999999995px;width:80px;color:#4a77e6">24h 0m</div>
<div class="abs sl2" style="left:166.5px;width:80px;top:32.8px"><svg width="8" height="8" viewBox="0 0 8 8" style="vertical-align:top;margin-right:2.5px" fill="none" stroke="#8c8f98" stroke-width="0.8"><path d="M6.9 3.2 A3.1 3.1 0 1 1 5.2 1.2"/><path d="M4 2.4 V4.2 H5.3"/><path d="M5.6 0.4 L5.4 1.4 L6.5 1.7"/></svg>Leave</div>
<div class="abs svd" style="left:166.5px;width:80px;color:#e0393b">8h 0m</div>
<svg class="abs" style="left:0;top:0" width="235" height="197" viewBox="0 0 235 197" font-family="Liberation Sans, sans-serif"><line x1="31.299999999999955" y1="67.30000000000001" x2="226.70000000000005" y2="67.30000000000001" stroke="#e9ebf0" stroke-width="0.8"/><text x="28.299999999999955" y="69.9" font-size="7.6" fill="#5c5e66" text-anchor="end">1.0</text><line x1="31.299999999999955" y1="85.80000000000001" x2="226.70000000000005" y2="85.80000000000001" stroke="#e9ebf0" stroke-width="0.8"/><text x="28.299999999999955" y="88.4" font-size="7.6" fill="#5c5e66" text-anchor="end">0.8</text><line x1="31.299999999999955" y1="104.30000000000001" x2="226.70000000000005" y2="104.30000000000001" stroke="#e9ebf0" stroke-width="0.8"/><text x="28.299999999999955" y="106.9" font-size="7.6" fill="#5c5e66" text-anchor="end">0.6</text><line x1="31.299999999999955" y1="122.80000000000001" x2="226.70000000000005" y2="122.80000000000001" stroke="#e9ebf0" stroke-width="0.8"/><text x="28.299999999999955" y="125.4" font-size="7.6" fill="#5c5e66" text-anchor="end">0.4</text><line x1="31.299999999999955" y1="141.3" x2="226.70000000000005" y2="141.3" stroke="#e9ebf0" stroke-width="0.8"/><text x="28.299999999999955" y="143.9" font-size="7.6" fill="#5c5e66" text-anchor="end">0.2</text><line x1="31.299999999999955" y1="159.8" x2="226.70000000000005" y2="159.8" stroke="#e9ebf0" stroke-width="0.8"/><text x="28.299999999999955" y="162.4" font-size="7.6" fill="#5c5e66" text-anchor="end">0</text><line x1="34.299999999999955" y1="67.30000000000001" x2="34.299999999999955" y2="163.5" stroke="#e9ebf0" stroke-width="0.8"/><line x1="98.5" y1="67.30000000000001" x2="98.5" y2="163.5" stroke="#e9ebf0" stroke-width="0.8"/><line x1="162.60000000000002" y1="67.30000000000001" x2="162.60000000000002" y2="163.5" stroke="#e9ebf0" stroke-width="0.8"/><line x1="226.70000000000005" y1="67.30000000000001" x2="226.70000000000005" y2="163.5" stroke="#e9ebf0" stroke-width="0.8"/><text x="34.299999999999955" y="173.39999999999998" font-size="7.6" fill="#5c5e66" text-anchor="middle">01</text><text x="98.5" y="173.39999999999998" font-size="7.6" fill="#5c5e66" text-anchor="middle">02</text><text x="162.60000000000002" y="173.39999999999998" font-size="7.6" fill="#5c5e66" text-anchor="middle">03</text><text x="226.70000000000005" y="173.39999999999998" font-size="7.6" fill="#5c5e66" text-anchor="middle">04</text><text x="130.20000000000005" y="185.7" font-size="7.4" fill="#5c5e66" text-anchor="middle">Days</text><text x="0" y="0" font-size="7.4" fill="#5c5e66" text-anchor="middle" transform="translate(11.899999999999954 113.19999999999999) rotate(-90)">Hours</text><line x1="34.299999999999955" y1="159.8" x2="226.70000000000005" y2="159.8" stroke="#f5893a" stroke-width="2"/><circle cx="34.299999999999955" cy="159.8" r="2.2" fill="#f5893a"/><circle cx="98.5" cy="159.8" r="2.2" fill="#f5893a"/><circle cx="162.60000000000002" cy="159.8" r="2.2" fill="#f5893a"/><circle cx="226.70000000000005" cy="159.8" r="2.2" fill="#f5893a"/></svg>
</div>
<div class="card" style="left:880px;top:93px;width:266px;height:196.5px">
<svg class="abs" style="left:5.5px;top:7.5px" width="16" height="15" viewBox="0 0 16 15"><path d="M2 0.8 V7" stroke="#2f3d7a" stroke-width="1.3" stroke-linecap="round"/><circle cx="2.3" cy="10.2" r="1.9" fill="#2f3d7a"/><path d="M6.5 5.5 V10.5 M9.5 3.5 V10.5 M12.5 2 V10.5" stroke="#2f3d7a" stroke-width="1.3"/><path d="M5 13.2 H15.5" stroke="#6b78a6" stroke-width="1.3"/></svg><svg class="abs" style="left:148.4px;top:9.2px" width="10" height="10" viewBox="0 0 10 10"><circle cx="5" cy="5" r="3.9" fill="none" stroke="#5577ea" stroke-width="1"/><path d="M5 4.4 V7" stroke="#5577ea" stroke-width="0.9"/><circle cx="5" cy="3.1" r="0.55" fill="#5577ea"/></svg>
<div class="abs ct" style="left:28px;top:8.5px">Monthly Activity Strength</div>
<div class="abs" style="left:0;top:28.2px;width:266px;height:1.2px;background:#d9dbe4"></div>
<div class="abs" style="left:0;top:29.4px;width:266px;height:29px;background:#f5f6f8;border-bottom:1px dashed #e6e7eb"></div>
<div class="abs" style="left:0.0px;top:29.4px;width:62.0px;height:28px;background:#f3f4fa"></div>
<div class="abs" style="left:62.0px;top:29.4px;width:66.8px;height:28px;background:#f2f5f3"></div>
<div class="abs" style="left:128.7px;top:29.4px;width:68.5px;height:28px;background:#f2f4f9"></div>
<div class="abs" style="left:197.2px;top:29.4px;width:68.8px;height:28px;background:#faf4f4"></div>
<div class="abs sl2" style="left:-10.5px;width:80px;top:32.8px">Strength</div>
<div class="abs svm" style="left:-10.5px;width:80px;color:#7a52f0">0.00%</div>
<div class="abs sl2" style="left:54.39999999999998px;width:80px;top:32.8px"><svg width="8" height="8" viewBox="0 0 8 8" style="vertical-align:top;margin-right:2.5px" fill="none" stroke="#8c8f98" stroke-width="0.8"><path d="M6.9 3.2 A3.1 3.1 0 1 1 5.2 1.2"/><path d="M4 2.4 V4.2 H5.3"/><path d="M5.6 0.4 L5.4 1.4 L6.5 1.7"/></svg>Worked</div>
<div class="abs svm" style="left:54.39999999999998px;width:80px;color:#2e9a48">0h 0m</div>
<div class="abs sl2" style="left:123px;width:80px;top:32.8px"><svg width="8" height="8" viewBox="0 0 8 8" style="vertical-align:top;margin-right:2.5px" fill="none" stroke="#8c8f98" stroke-width="0.8"><path d="M6.9 3.2 A3.1 3.1 0 1 1 5.2 1.2"/><path d="M4 2.4 V4.2 H5.3"/><path d="M5.6 0.4 L5.4 1.4 L6.5 1.7"/></svg>Expected</div>
<div class="abs svm" style="left:123px;width:80px;color:#4a77e6">504h 0m</div>
<div class="abs sl2" style="left:191.5px;width:80px;top:32.8px"><svg width="8" height="8" viewBox="0 0 8 8" style="vertical-align:top;margin-right:2.5px" fill="none" stroke="#8c8f98" stroke-width="0.8"><path d="M6.9 3.2 A3.1 3.1 0 1 1 5.2 1.2"/><path d="M4 2.4 V4.2 H5.3"/><path d="M5.6 0.4 L5.4 1.4 L6.5 1.7"/></svg>Leave</div>
<div class="abs svm" style="left:191.5px;width:80px;color:#e0393b">8h 0m</div>
<svg class="abs" style="left:0;top:0" width="266" height="197" viewBox="0 0 266 197" font-family="Liberation Sans, sans-serif"><line x1="30.700000000000045" y1="67.30000000000001" x2="265" y2="67.30000000000001" stroke="#e9ebf0" stroke-width="0.8"/><text x="28.299999999999955" y="69.9" font-size="7.6" fill="#5c5e66" text-anchor="end">1.0</text><line x1="30.700000000000045" y1="85.80000000000001" x2="265" y2="85.80000000000001" stroke="#e9ebf0" stroke-width="0.8"/><text x="28.299999999999955" y="88.4" font-size="7.6" fill="#5c5e66" text-anchor="end">0.8</text><line x1="30.700000000000045" y1="104.30000000000001" x2="265" y2="104.30000000000001" stroke="#e9ebf0" stroke-width="0.8"/><text x="28.299999999999955" y="106.9" font-size="7.6" fill="#5c5e66" text-anchor="end">0.6</text><line x1="30.700000000000045" y1="122.80000000000001" x2="265" y2="122.80000000000001" stroke="#e9ebf0" stroke-width="0.8"/><text x="28.299999999999955" y="125.4" font-size="7.6" fill="#5c5e66" text-anchor="end">0.4</text><line x1="30.700000000000045" y1="141.3" x2="265" y2="141.3" stroke="#e9ebf0" stroke-width="0.8"/><text x="28.299999999999955" y="143.9" font-size="7.6" fill="#5c5e66" text-anchor="end">0.2</text><line x1="30.700000000000045" y1="159.8" x2="265" y2="159.8" stroke="#e9ebf0" stroke-width="0.8"/><text x="28.299999999999955" y="162.4" font-size="7.6" fill="#5c5e66" text-anchor="end">0</text><line x1="33.700000000000045" y1="67.30000000000001" x2="33.700000000000045" y2="163.5" stroke="#e9ebf0" stroke-width="0.8"/><line x1="52.90000000000009" y1="67.30000000000001" x2="52.90000000000009" y2="163.5" stroke="#e9ebf0" stroke-width="0.8"/><line x1="72.10000000000002" y1="67.30000000000001" x2="72.10000000000002" y2="163.5" stroke="#e9ebf0" stroke-width="0.8"/><line x1="91.30000000000007" y1="67.30000000000001" x2="91.30000000000007" y2="163.5" stroke="#e9ebf0" stroke-width="0.8"/><line x1="110.5" y1="67.30000000000001" x2="110.5" y2="163.5" stroke="#e9ebf0" stroke-width="0.8"/><line x1="129.70000000000005" y1="67.30000000000001" x2="129.70000000000005" y2="163.5" stroke="#e9ebf0" stroke-width="0.8"/><line x1="148.9000000000001" y1="67.30000000000001" x2="148.9000000000001" y2="163.5" stroke="#e9ebf0" stroke-width="0.8"/><line x1="168.10000000000014" y1="67.30000000000001" x2="168.10000000000014" y2="163.5" stroke="#e9ebf0" stroke-width="0.8"/><line x1="187.29999999999995" y1="67.30000000000001" x2="187.29999999999995" y2="163.5" stroke="#e9ebf0" stroke-width="0.8"/><line x1="206.5" y1="67.30000000000001" x2="206.5" y2="163.5" stroke="#e9ebf0" stroke-width="0.8"/><line x1="225.70000000000005" y1="67.30000000000001" x2="225.70000000000005" y2="163.5" stroke="#e9ebf0" stroke-width="0.8"/><line x1="244.9000000000001" y1="67.30000000000001" x2="244.9000000000001" y2="163.5" stroke="#e9ebf0" stroke-width="0.8"/><line x1="264.0999999999999" y1="67.30000000000001" x2="264.0999999999999" y2="163.5" stroke="#e9ebf0" stroke-width="0.8"/><text x="43.30000000000007" y="173.39999999999998" font-size="7.6" fill="#5c5e66" text-anchor="middle">01</text><text x="62.500000000000114" y="173.39999999999998" font-size="7.6" fill="#5c5e66" text-anchor="middle">02</text><text x="81.70000000000005" y="173.39999999999998" font-size="7.6" fill="#5c5e66" text-anchor="middle">03</text><text x="100.90000000000009" y="173.39999999999998" font-size="7.6" fill="#5c5e66" text-anchor="middle">04</text><text x="120.10000000000002" y="173.39999999999998" font-size="7.6" fill="#5c5e66" text-anchor="middle">05</text><text x="139.30000000000007" y="173.39999999999998" font-size="7.6" fill="#5c5e66" text-anchor="middle">06</text><text x="158.5" y="173.39999999999998" font-size="7.6" fill="#5c5e66" text-anchor="middle">07</text><text x="177.70000000000005" y="173.39999999999998" font-size="7.6" fill="#5c5e66" text-anchor="middle">08</text><text x="196.89999999999986" y="173.39999999999998" font-size="7.6" fill="#5c5e66" text-anchor="middle">09</text><text x="216.0999999999999" y="173.39999999999998" font-size="7.6" fill="#5c5e66" text-anchor="middle">10</text><text x="235.29999999999995" y="173.39999999999998" font-size="7.6" fill="#5c5e66" text-anchor="middle">11</text><text x="254.5" y="173.39999999999998" font-size="7.6" fill="#5c5e66" text-anchor="middle">12</text><text x="148.4000000000001" y="185.7" font-size="7.4" fill="#5c5e66" text-anchor="middle">Months</text><text x="0" y="0" font-size="7.4" fill="#5c5e66" text-anchor="middle" transform="translate(10.899999999999954 113.19999999999999) rotate(-90)">Hours</text></svg>
</div>
<div class="card" style="left:179px;top:297px;width:209px;height:260.3px">
<svg class="abs" style="left:4.5px;top:7.5px" width="16" height="15" viewBox="0 0 16 15" fill="none" stroke="#2f3d7a" stroke-width="1.3"><path d="M11.5 3.5 A6 6 0 1 1 6.8 1.5"/><path d="M6.8 4.2 V7.8 L9.6 9.6"/><circle cx="10.7" cy="2.2" r="1.3" fill="#2f3d7a" stroke="none"/><path d="M8.3 6.3 Q8.3 4 10.7 4 Q13.1 4 13.1 6.3Z" fill="#2f3d7a" stroke="none"/><path d="M14.3 1.3 L15.3 0.6" stroke-width="0.8"/></svg>
<div class="abs ct" style="left:26.9px;top:8.7px">Shift Schedule</div>
<svg class="abs" style="left:97.2px;top:9.5px" width="10" height="10" viewBox="0 0 10 10"><circle cx="5" cy="5" r="3.9" fill="none" stroke="#5577ea" stroke-width="1"/><path d="M5 4.4 V7" stroke="#5577ea" stroke-width="0.9"/><circle cx="5" cy="3.1" r="0.55" fill="#5577ea"/></svg>
<div class="abs" style="left:0;top:28.5px;width:209px;height:1.2px;background:#d9dbe4"></div>
<div class="abs pill" style="left:6.0px;top:36px;background:#e7e8eb;color:#85878d"><div>31</div><div>Sun</div></div>
<div class="abs pill" style="left:34.6px;top:36px;border:1px dotted #e3e4ea;color:#3a3b40"><div>01</div><div>Mon</div></div>
<div class="abs pill" style="left:63.2px;top:36px;border:1px dotted #e3e4ea;color:#3a3b40"><div>02</div><div>Tue</div></div>
<div class="abs pill" style="left:91.8px;top:36px;border:1px dotted #e56a6a;color:#3a3b40"><div>03</div><div>Wed</div></div>
<div class="abs pill" style="left:120.4px;top:36px;border:1px dotted #e3e4ea;color:#3a3b40"><div>04</div><div>Thu</div></div>
<div class="abs pill" style="left:149.0px;top:36px;background:#2664e2;border-color:#2664e2;color:#eaf0ff"><div>05</div><div>Fri</div></div>
<div class="abs pill" style="left:177.6px;top:36px;background:#e7e8eb;color:#85878d"><div>06</div><div>Sat</div></div>
<div class="abs" style="left:0;top:64px;width:209px;border-top:1px dashed #ececf0"></div>
<div class="abs" style="left:5.5px;top:72.3px;font:9px/10px 'Liberation Sans',sans-serif;color:#e86a2e;white-space:nowrap;background:linear-gradient(90deg,#dc5520,#f08a3c);-webkit-background-clip:text;background-clip:text;-webkit-text-fill-color:transparent">Regular Day Shift</div>
<div class="abs" style="left:86.1px;top:86.8px;width:36.6px;height:7.7px;border-radius:4px;background:#dde3fb;font:7px/7.7px 'Liberation Sans',sans-serif;color:#6468ee;text-align:center">9h 0m</div>
<div class="abs" style="left:5.5px;top:100px;width:19.2px;height:2px;background:#cfd2d8"></div>
<div class="abs" style="left:24.7px;top:100px;width:14.7px;height:2px;background:#6f9bf0"></div>
<div class="abs" style="left:39.4px;top:100px;width:43.0px;height:2px;background:#20953a"></div>
<div class="abs" style="left:82.4px;top:100px;width:14.6px;height:2px;background:#e23a3a"></div>
<div class="abs" style="left:97.0px;top:100px;width:71.5px;height:2px;background:#20953a"></div>
<div class="abs" style="left:168.5px;top:100px;width:15.5px;height:2px;background:#6f9bf0"></div>
<div class="abs" style="left:184.0px;top:100px;width:19.0px;height:2px;background:#cfd2d8"></div>
<svg class="abs" style="left:22.3px;top:95.8px" width="6" height="4" viewBox="0 0 6 4"><path d="M0 0 H6 L3 4Z" fill="#6f9bf0"/></svg>
<svg class="abs" style="left:36.4px;top:95.8px" width="6" height="4" viewBox="0 0 6 4"><path d="M0 0 H6 L3 4Z" fill="#20953a"/></svg>
<svg class="abs" style="left:166.4px;top:95.8px" width="6" height="4" viewBox="0 0 6 4"><path d="M0 0 H6 L3 4Z" fill="#6f9bf0"/></svg>
<svg class="abs" style="left:79.4px;top:103.2px" width="6" height="4" viewBox="0 0 6 4"><path d="M0 4 H6 L3 0Z" fill="#e23a3a"/></svg>
<div class="abs" style="left:0;top:107.5px;width:209px;border-top:1px dashed #ececf0"></div>
<div class="abs" style="left:61.4px;top:108px;height:33px;border-left:1px dashed #ececf0"></div>
<div class="abs" style="left:125.5px;top:108px;height:33px;border-left:1px dashed #ececf0"></div>
<div class="abs" style="left:5.5px;top:114px;font:8px/9px 'Liberation Sans',sans-serif;color:#8a8c93;white-space:nowrap">Leave</div>
<div class="abs" style="left:5.5px;top:125.2px;font:bold 9.2px/10px 'Liberation Sans',sans-serif;color:#3a3b40;white-space:nowrap">0h 0m</div>
<div class="abs" style="left:68.7px;top:114px;font:8px/9px 'Liberation Sans',sans-serif;color:#8a8c93;white-space:nowrap">Gross</div>
<div class="abs" style="left:68.7px;top:125.2px;font:bold 9.2px/10px 'Liberation Sans',sans-serif;color:#3a3b40;white-space:nowrap">9h 0m</div>
<div class="abs" style="left:131.5px;top:114px;font:8px/9px 'Liberation Sans',sans-serif;color:#8a8c93;white-space:nowrap">Effective</div>
<div class="abs" style="left:131.5px;top:125.2px;font:bold 9.2px/10px 'Liberation Sans',sans-serif;color:#3a3b40;white-space:nowrap">0h 0m</div>
<svg class="abs" style="left:165px;top:114px" width="40" height="22" viewBox="0 0 40 22"><path d="M5.5 20.6 A14.6 14.6 0 0 1 34.7 20.6" fill="none" stroke="#d3d3d6" stroke-width="7.2"/></svg>
<div class="abs" style="left:0;top:142px;width:209px;height:26px;background:#f3f5f8"></div>
<div class="abs" style="left:5.7px;top:150.6px;font:bold 8.6px/10px 'Liberation Sans',sans-serif;color:#333438;white-space:nowrap">Punch In / Out</div>
<svg class="abs" style="left:84px;top:183px" width="40" height="34" viewBox="0 0 40 34">
<ellipse cx="19.6" cy="16.3" rx="18" ry="14.6" transform="rotate(-22 19.6 16.3)" fill="#dde2fb"/>
<path d="M7.4 12.4 V25.6 Q7.4 27 8.8 27 H34" fill="none" stroke="#4a5890" stroke-width="1.1"/>
<g fill="none" stroke="#3e4c86" stroke-width="1"><rect x="12" y="15.6" width="3" height="7" rx="1.5"/><rect x="17.2" y="9.3" width="3" height="13.3" rx="1.5"/><rect x="22.4" y="12.4" width="2.8" height="10.2" rx="1.4"/><rect x="27.4" y="7.6" width="3.2" height="15" rx="1.6"/></g>
<circle cx="11.2" cy="8.3" r="3.8" fill="#e23b3b"/><path d="M11.2 6.5 V8.6 M10.2 8 L11.2 9 L12.2 8" stroke="#fbdada" stroke-width="0.7" fill="none"/>
</svg>
<div class="abs" style="left:0;width:209px;top:223.5px;font:8.8px/10px 'Liberation Sans',sans-serif;color:#a2a5ad;text-align:center;padding-left:0.5px">No Record Found</div>
</div>
<div class="card" style="left:396px;top:297px;width:234px;height:260.3px">
<svg class="abs" style="left:4.3px;top:8.5px" width="17" height="14" viewBox="0 0 17 14" fill="none" stroke="#2f3d7a" stroke-width="1.2"><path d="M8 12.5 H2.2 Q1 12.5 1 11.3 V3.2 Q1 2 2.2 2 H11.5 Q12.7 2 12.7 3.2 V6"/><path d="M1 5.2 H12.7 M4 0.6 V3.2 M9.7 0.6 V3.2"/><circle cx="12" cy="10" r="3.3" fill="#fff"/><path d="M12 8.3 V10.2 H13.5" stroke-width="1"/></svg>
<div class="abs ct" style="left:27.3px;top:8.9px">Leaves</div>
<svg class="abs" style="left:63.7px;top:9.5px" width="10" height="10" viewBox="0 0 10 10"><circle cx="5" cy="5" r="3.9" fill="none" stroke="#5577ea" stroke-width="1"/><path d="M5 4.4 V7" stroke="#5577ea" stroke-width="0.9"/><circle cx="5" cy="3.1" r="0.55" fill="#5577ea"/></svg>
<div class="abs" style="left:213.9px;top:8.1px;width:13.2px;height:13.2px;border-radius:50%;background:#dfe3fb"></div>
<svg class="abs" style="left:216.5px;top:10.7px" width="8" height="8" viewBox="0 0 8 8"><path d="M4 0.5 V7.5 M0.5 4 H7.5" stroke="#4a5285" stroke-width="1.1"/></svg>
<div class="abs" style="left:0;top:28.5px;width:234px;height:1.2px;background:#d9dbe4"></div>
<div class="abs" style="left:93.1px;top:34.6px;font:bold 7.4px/8px 'Liberation Sans',sans-serif;color:#3c3d42">Paid</div>
<div class="abs" style="left:205.3px;top:34.6px;font:bold 7.4px/8px 'Liberation Sans',sans-serif;color:#3c3d42">Unpaid</div>
<div class="abs" style="left:202.8px;top:31px;height:229px;border-left:1px dashed #ededf0"></div>
<svg class="abs" style="left:0;top:0" width="234" height="200" viewBox="0 0 234 200"><path d="M14.65 138.91 A85.6 85.6 0 0 1 121.78 59.06 L114.47 87.13 A56.6 56.6 0 0 0 43.63 139.92 Z" fill="#386ed6" stroke="#386ed6" stroke-width="5" stroke-linejoin="round"/><path d="M131.16 62.09 A85.6 85.6 0 0 1 146.32 69.79 L130.69 94.22 A56.6 56.6 0 0 0 120.67 89.13 Z" fill="#1fa049" stroke="#1fa049" stroke-width="5" stroke-linejoin="round"/><path d="M154.30 75.56 A85.6 85.6 0 0 1 185.75 138.91 L156.77 139.92 A56.6 56.6 0 0 0 135.97 98.04 Z" fill="#dc2525" stroke="#dc2525" stroke-width="5" stroke-linejoin="round"/></svg>
<div class="abs" style="left:0;width:200px;top:101.5px;font:17.5px/18px 'Liberation Sans',sans-serif;color:#2b2b2e;text-align:center">6.00</div>
<div class="abs" style="left:0;width:200px;top:121.6px;font:7.5px/8px 'Liberation Sans',sans-serif;color:#8a8c94;text-align:center">Available Balance</div>
<div class="abs" style="left:212px;top:55.9px;width:12px;height:192px;border-radius:6px;overflow:hidden;background:linear-gradient(#396fd6 0,#396fd6 33.2%,#1fa049 33.2%,#1fa049 67%,#dc2525 67%)"></div>
<div class="abs" style="left:0;top:176.5px;width:203px;border-top:1px dashed #ededf0"></div>
<div class="abs" style="left:5.7px;top:183.3px;width:189px;height:20.3px;border-radius:3px;background:#f2f8f4;border:1px solid #d6eedd"></div>
<div class="abs" style="left:9.7px;top:188.9px;font:7.6px/9px 'Liberation Sans',sans-serif;color:#3aa65a">Approved</div>
<div class="abs" style="left:156.7px;top:188.0px;width:33.7px;height:11.6px;border-radius:6px;background:#1f9f48;font:8.6px/11.6px 'Liberation Sans',sans-serif;color:#fff;text-align:center">1.00</div>
<div class="abs" style="left:5.7px;top:209.0px;width:189px;height:20.3px;border-radius:3px;background:#faf6f6;border:1px solid #efeaea"></div>
<div class="abs" style="left:9.7px;top:214.6px;font:7.6px/9px 'Liberation Sans',sans-serif;color:#e25454">Rejected</div>
<div class="abs" style="left:156.7px;top:213.7px;width:33.7px;height:11.6px;border-radius:6px;background:#dc2929;font:8.6px/11.6px 'Liberation Sans',sans-serif;color:#fff;text-align:center">3.00</div>
<div class="abs" style="left:5.7px;top:234.1px;width:189px;height:20.3px;border-radius:3px;background:#faf8f5;border:1px solid #efece6"></div>
<div class="abs" style="left:9.7px;top:239.7px;font:7.6px/9px 'Liberation Sans',sans-serif;color:#e39a4a">Pending</div>
<div class="abs" style="left:156.7px;top:238.8px;width:33.7px;height:11.6px;border-radius:6px;background:#c6a235;font:8.6px/11.6px 'Liberation Sans',sans-serif;color:#fff;text-align:center">0.00</div>
</div>
<div class="card" style="left:637px;top:297px;width:235px;height:260.3px">
<svg class="abs" style="left:5.5px;top:8.3px" width="16" height="14" viewBox="0 0 16 14" fill="none" stroke="#3b4a86" stroke-width="1.2"><path d="M7.5 12.3 H2.2 Q1 12.3 1 11.1 V3.2 Q1 2 2.2 2 H11 Q12.2 2 12.2 3.2 V6"/><path d="M1 5.2 H12.2 M3.8 0.6 V3.2 M9.4 0.6 V3.2"/><circle cx="11.5" cy="10" r="3.2" fill="#fff"/><path d="M11.5 8.4 V10.2 H12.9" stroke-width="1"/></svg>
<div class="abs ct" style="left:27.6px;top:8.7px">Attendance | Sep-2025</div>
<svg class="abs" style="left:138.1px;top:9.7px" width="10" height="10" viewBox="0 0 10 10"><circle cx="5" cy="5" r="3.9" fill="none" stroke="#5577ea" stroke-width="1"/><path d="M5 4.4 V7" stroke="#5577ea" stroke-width="0.9"/><circle cx="5" cy="3.1" r="0.55" fill="#5577ea"/></svg>
<div class="abs" style="left:0;top:28.6px;width:235px;height:1.2px;background:#d9dbe4"></div>
<div class="abs" style="left:0.0px;width:33.5px;top:35.3px;font:bold 8.6px/10px 'Liberation Sans',sans-serif;color:#36373c;text-align:center">Sun</div>
<div class="abs" style="left:33.5px;width:33.7px;top:35.3px;font:bold 8.6px/10px 'Liberation Sans',sans-serif;color:#36373c;text-align:center">Mon</div>
<div class="abs" style="left:67.2px;width:33.5px;top:35.3px;font:bold 8.6px/10px 'Liberation Sans',sans-serif;color:#36373c;text-align:center">Tue</div>
<div class="abs" style="left:100.7px;width:33.6px;top:35.3px;font:bold 8.6px/10px 'Liberation Sans',sans-serif;color:#36373c;text-align:center">Wed</div>
<div class="abs" style="left:134.3px;width:33.7px;top:35.3px;font:bold 8.6px/10px 'Liberation Sans',sans-serif;color:#36373c;text-align:center">Thu</div>
<div class="abs" style="left:168.0px;width:33.5px;top:35.3px;font:bold 8.6px/10px 'Liberation Sans',sans-serif;color:#36373c;text-align:center">Fri</div>
<div class="abs" style="left:201.5px;width:33.5px;top:35.3px;font:bold 8.6px/10px 'Liberation Sans',sans-serif;color:#36373c;text-align:center">Sat</div>
<div class="abs" style="left:0.0px;top:50.2px;width:33.5px;height:34.95px;background:#f1f1f3"></div>
<div class="abs" style="left:100.7px;top:190.0px;width:33.6px;height:34.95px;background:#f1f1f3"></div>
<div class="abs" style="left:134.3px;top:190.0px;width:33.7px;height:34.95px;background:#f1f1f3"></div>
<div class="abs" style="left:168.0px;top:190.0px;width:33.5px;height:34.95px;background:#f1f1f3"></div>
<div class="abs" style="left:201.5px;top:190.0px;width:33.5px;height:34.95px;background:#f1f1f3"></div>
<div class="abs" style="left:0.0px;top:225.0px;width:33.5px;height:34.95px;background:#f1f1f3"></div>
<div class="abs" style="left:33.5px;top:225.0px;width:33.7px;height:34.95px;background:#f1f1f3"></div>
<div class="abs" style="left:67.2px;top:225.0px;width:33.5px;height:34.95px;background:#f1f1f3"></div>
<div class="abs" style="left:100.7px;top:225.0px;width:33.6px;height:34.95px;background:#f1f1f3"></div>
<div class="abs" style="left:134.3px;top:225.0px;width:33.7px;height:34.95px;background:#f1f1f3"></div>
<div class="abs" style="left:168.0px;top:225.0px;width:33.5px;height:34.95px;background:#f1f1f3"></div>
<div class="abs" style="left:201.5px;top:225.0px;width:33.5px;height:34.95px;background:#f1f1f3"></div>
<div class="abs" style="left:33.0px;top:29.5px;width:0;height:232px;border-left:1px dotted #e4e5ea"></div>
<div class="abs" style="left:66.7px;top:29.5px;width:0;height:232px;border-left:1px dotted #e4e5ea"></div>
<div class="abs" style="left:100.2px;top:29.5px;width:0;height:232px;border-left:1px dotted #e4e5ea"></div>
<div class="abs" style="left:133.8px;top:29.5px;width:0;height:232px;border-left:1px dotted #e4e5ea"></div>
<div class="abs" style="left:167.5px;top:29.5px;width:0;height:232px;border-left:1px dotted #e4e5ea"></div>
<div class="abs" style="left:201.0px;top:29.5px;width:0;height:232px;border-left:1px dotted #e4e5ea"></div>
<div class="abs" style="left:0;top:49.7px;width:235px;height:0;border-top:1px dotted #e4e5ea"></div>
<div class="abs" style="left:0;top:84.6px;width:235px;height:0;border-top:1px dotted #e4e5ea"></div>
<div class="abs" style="left:0;top:119.6px;width:235px;height:0;border-top:1px dotted #e4e5ea"></div>
<div class="abs" style="left:0;top:154.6px;width:235px;height:0;border-top:1px dotted #e4e5ea"></div>
<div class="abs" style="left:0;top:189.5px;width:235px;height:0;border-top:1px dotted #e4e5ea"></div>
<div class="abs" style="left:0;top:224.5px;width:235px;height:0;border-top:1px dotted #e4e5ea"></div>
<div class="abs" style="left:3.0px;top:53.8px;font:normal 6.5px/7px 'Liberation Sans',sans-serif;color:#bfc0c5">31</div>
<div class="abs" style="left:36.5px;top:53.8px;font:normal 6.5px/7px 'Liberation Sans',sans-serif;color:#47484d">01</div>
<div class="abs" style="left:45.6px;top:63.2px;width:9.6px;height:9.4px;border-radius:3px;background:#f3c4c4;font:bold 6.4px/9.4px 'Liberation Sans',sans-serif;color:#e03b3b;text-align:center">A</div>
<div class="abs" style="left:70.2px;top:53.8px;font:normal 6.5px/7px 'Liberation Sans',sans-serif;color:#47484d">02</div>
<div class="abs" style="left:79.2px;top:63.2px;width:9.6px;height:9.4px;border-radius:3px;background:#f3c4c4;font:bold 6.4px/9.4px 'Liberation Sans',sans-serif;color:#e03b3b;text-align:center">A</div>
<div class="abs" style="left:103.7px;top:53.8px;font:normal 6.5px/7px 'Liberation Sans',sans-serif;color:#47484d">03</div>
<div class="abs" style="left:112.7px;top:63.2px;width:9.6px;height:9.4px;border-radius:3px;background:#f3c4c4;font:bold 6.4px/9.4px 'Liberation Sans',sans-serif;color:#e03b3b;text-align:center">A</div>
<div class="abs" style="left:137.3px;top:53.8px;font:normal 6.5px/7px 'Liberation Sans',sans-serif;color:#47484d">04</div>
<div class="abs" style="left:146.3px;top:63.2px;width:9.6px;height:9.4px;border-radius:3px;background:#f3c4c4;font:bold 6.4px/9.4px 'Liberation Sans',sans-serif;color:#e03b3b;text-align:center">A</div>
<div class="abs" style="left:169.6px;top:52.9px;width:8px;height:7.5px;border-radius:3px;background:#d3e2ff"></div>
<div class="abs" style="left:171.0px;top:53.8px;font:normal 6.5px/7px 'Liberation Sans',sans-serif;color:#78a2f5">05</div>
<div class="abs" style="left:179.9px;top:63.2px;width:9.6px;height:9.4px;border-radius:3px;background:#f3c4c4;font:bold 6.4px/9.4px 'Liberation Sans',sans-serif;color:#e03b3b;text-align:center">A</div>
<div class="abs" style="left:204.5px;top:53.8px;font:normal 6.5px/7px 'Liberation Sans',sans-serif;color:#47484d">06</div>
<div class="abs" style="left:3.0px;top:88.7px;font:normal 6.5px/7px 'Liberation Sans',sans-serif;color:#47484d">07</div>
<div class="abs" style="left:36.5px;top:88.7px;font:normal 6.5px/7px 'Liberation Sans',sans-serif;color:#47484d">08</div>
<div class="abs" style="left:70.2px;top:88.7px;font:normal 6.5px/7px 'Liberation Sans',sans-serif;color:#47484d">09</div>
<div class="abs" style="left:103.7px;top:88.7px;font:normal 6.5px/7px 'Liberation Sans',sans-serif;color:#47484d">10</div>
<div class="abs" style="left:137.3px;top:88.7px;font:normal 6.5px/7px 'Liberation Sans',sans-serif;color:#47484d">11</div>
<div class="abs" style="left:171.0px;top:88.7px;font:normal 6.5px/7px 'Liberation Sans',sans-serif;color:#47484d">12</div>
<div class="abs" style="left:204.5px;top:88.7px;font:normal 6.5px/7px 'Liberation Sans',sans-serif;color:#47484d">13</div>
<div class="abs" style="left:3.0px;top:123.7px;font:normal 6.5px/7px 'Liberation Sans',sans-serif;color:#47484d">14</div>
<div class="abs" style="left:36.5px;top:123.7px;font:normal 6.5px/7px 'Liberation Sans',sans-serif;color:#47484d">15</div>
<div class="abs" style="left:70.2px;top:123.7px;font:normal 6.5px/7px 'Liberation Sans',sans-serif;color:#47484d">16</div>
<div class="abs" style="left:103.7px;top:123.7px;font:normal 6.5px/7px 'Liberation Sans',sans-serif;color:#47484d">17</div>
<div class="abs" style="left:137.3px;top:123.7px;font:normal 6.5px/7px 'Liberation Sans',sans-serif;color:#47484d">18</div>
<div class="abs" style="left:171.0px;top:123.7px;font:normal 6.5px/7px 'Liberation Sans',sans-serif;color:#47484d">19</div>
<div class="abs" style="left:204.5px;top:123.7px;font:normal 6.5px/7px 'Liberation Sans',sans-serif;color:#47484d">20</div>
<div class="abs" style="left:3.0px;top:158.7px;font:normal 6.5px/7px 'Liberation Sans',sans-serif;color:#47484d">21</div>
<div class="abs" style="left:36.5px;top:158.7px;font:normal 6.5px/7px 'Liberation Sans',sans-serif;color:#47484d">22</div>
<div class="abs" style="left:70.2px;top:158.7px;font:normal 6.5px/7px 'Liberation Sans',sans-serif;color:#47484d">23</div>
<div class="abs" style="left:103.7px;top:158.7px;font:normal 6.5px/7px 'Liberation Sans',sans-serif;color:#47484d">24</div>
<div class="abs" style="left:137.3px;top:158.7px;font:normal 6.5px/7px 'Liberation Sans',sans-serif;color:#47484d">25</div>
<div class="abs" style="left:171.0px;top:158.7px;font:normal 6.5px/7px 'Liberation Sans',sans-serif;color:#47484d">26</div>
<div class="abs" style="left:204.5px;top:158.7px;font:normal 6.5px/7px 'Liberation Sans',sans-serif;color:#47484d">27</div>
<div class="abs" style="left:3.0px;top:193.6px;font:normal 6.5px/7px 'Liberation Sans',sans-serif;color:#47484d">28</div>
<div class="abs" style="left:36.5px;top:193.6px;font:normal 6.5px/7px 'Liberation Sans',sans-serif;color:#47484d">29</div>
<div class="abs" style="left:70.2px;top:193.6px;font:normal 6.5px/7px 'Liberation Sans',sans-serif;color:#47484d">30</div>
<div class="abs" style="left:103.7px;top:193.6px;font:normal 6.5px/7px 'Liberation Sans',sans-serif;color:#bfc0c5">01</div>
<div class="abs" style="left:137.3px;top:193.6px;font:normal 6.5px/7px 'Liberation Sans',sans-serif;color:#bfc0c5">02</div>
<div class="abs" style="left:171.0px;top:193.6px;font:normal 6.5px/7px 'Liberation Sans',sans-serif;color:#bfc0c5">03</div>
<div class="abs" style="left:204.5px;top:193.6px;font:normal 6.5px/7px 'Liberation Sans',sans-serif;color:#bfc0c5">04</div>
<div class="abs" style="left:3.0px;top:228.6px;font:normal 6.5px/7px 'Liberation Sans',sans-serif;color:#bfc0c5">05</div>
<div class="abs" style="left:36.5px;top:228.6px;font:normal 6.5px/7px 'Liberation Sans',sans-serif;color:#bfc0c5">06</div>
<div class="abs" style="left:70.2px;top:228.6px;font:normal 6.5px/7px 'Liberation Sans',sans-serif;color:#bfc0c5">07</div>
<div class="abs" style="left:103.7px;top:228.6px;font:normal 6.5px/7px 'Liberation Sans',sans-serif;color:#bfc0c5">08</div>
<div class="abs" style="left:137.3px;top:228.6px;font:normal 6.5px/7px 'Liberation Sans',sans-serif;color:#bfc0c5">09</div>
<div class="abs" style="left:171.0px;top:228.6px;font:normal 6.5px/7px 'Liberation Sans',sans-serif;color:#bfc0c5">10</div>
<div class="abs" style="left:204.5px;top:228.6px;font:normal 6.5px/7px 'Liberation Sans',sans-serif;color:#bfc0c5">11</div>
<div class="abs" style="left:100.7px;top:80.0px;width:33.6px;height:4.8px;background:#e9e8ea;font:bold 4.6px/4.8px 'Liberation Sans',sans-serif;color:#ec5a5a;text-align:center">PL100</div>
<div class="abs" style="left:201.5px;top:185.0px;width:33.5px;height:4.8px;background:#f2dcae;font:bold 4.6px/4.8px 'Liberation Sans',sans-serif;color:#f08c26;text-align:center">UL100</div>
</div>
<div class="card" style="left:880px;top:297px;width:266px;height:260.3px">
<svg class="abs" style="left:4.5px;top:8px" width="12" height="14" viewBox="0 0 12 14" fill="none" stroke="#3b4a86" stroke-width="1.2"><rect x="1" y="2" width="9.5" height="11" rx="1.3"/><rect x="3.5" y="0.8" width="4.5" height="2.5" rx="0.8" fill="#3b4a86"/><path d="M3 6.5 H8.5 M3 8.7 H8.5 M3 10.9 H6.5" stroke-width="0.9"/></svg>
<div class="abs ct" style="left:21.9px;top:8.7px">My Task</div>
<svg class="abs" style="left:64.29999999999995px;top:9.4px" width="10" height="10" viewBox="0 0 10 10"><circle cx="5" cy="5" r="3.9" fill="none" stroke="#5577ea" stroke-width="1"/><path d="M5 4.4 V7" stroke="#5577ea" stroke-width="0.9"/><circle cx="5" cy="3.1" r="0.55" fill="#5577ea"/></svg>
<div class="abs" style="left:0;top:28.7px;width:266px;height:1.2px;background:#d9dbe4"></div>
<svg class="abs" style="left:0;top:0" width="266" height="260" viewBox="0 0 266 260"><path d="M81.00 70.00 A74.4 74.4 0 0 1 155.40 144.40 L126.40 144.40 A45.4 45.4 0 0 0 81.00 99.00 Z" fill="#878628" stroke="#fff" stroke-width="0.8"/><path d="M155.40 144.40 A74.4 74.4 0 0 1 81.00 218.80 L81.00 189.80 A45.4 45.4 0 0 0 126.40 144.40 Z" fill="#248c2b" stroke="#fff" stroke-width="0.8"/><path d="M81.00 218.80 A74.4 74.4 0 0 1 81.00 70.00 L81.00 99.00 A45.4 45.4 0 0 0 81.00 189.80 Z" fill="#3b10f2" stroke="#fff" stroke-width="0.8"/></svg>
<div class="abs" style="left:177.1px;top:103.8px;width:27.9px;height:11.2px;border-radius:5.6px;background:#878628;font:8.2px/11.2px 'Liberation Sans',sans-serif;color:#fff;text-align:center">1</div>
<div class="abs" style="left:210.1px;top:104.1px;font:8.7px/10px 'Liberation Sans',sans-serif;color:#525763;white-space:nowrap">In Progress</div>
<div class="abs" style="left:177.1px;top:121.8px;width:27.9px;height:11.2px;border-radius:5.6px;background:#e02525;font:8.2px/11.2px 'Liberation Sans',sans-serif;color:#fff;text-align:center">0</div>
<div class="abs" style="left:210.1px;top:122.1px;font:8.7px/10px 'Liberation Sans',sans-serif;color:#525763;white-space:nowrap">On Hold</div>
<div class="abs" style="left:177.1px;top:139.8px;width:27.9px;height:11.2px;border-radius:5.6px;background:#248c2b;font:8.2px/11.2px 'Liberation Sans',sans-serif;color:#fff;text-align:center">1</div>
<div class="abs" style="left:210.1px;top:140.1px;font:8.7px/10px 'Liberation Sans',sans-serif;color:#525763;white-space:nowrap">Running</div>
<div class="abs" style="left:177.1px;top:157.8px;width:27.9px;height:11.2px;border-radius:5.6px;background:#8a26f2;font:8.2px/11.2px 'Liberation Sans',sans-serif;color:#fff;text-align:center">0</div>
<div class="abs" style="left:210.1px;top:158.1px;font:8.7px/10px 'Liberation Sans',sans-serif;color:#525763;white-space:nowrap">Completed</div>
<div class="abs" style="left:177.1px;top:175.8px;width:27.9px;height:11.2px;border-radius:5.6px;background:#3b10f2;font:8.2px/11.2px 'Liberation Sans',sans-serif;color:#fff;text-align:center">2</div>
<div class="abs" style="left:210.1px;top:176.1px;font:8.7px/10px 'Liberation Sans',sans-serif;color:#525763;white-space:nowrap">Closed</div>
</div>
<div class="card" style="left:179px;top:565px;width:209px;height:20px"></div>
<div class="card" style="left:396px;top:565px;width:234px;height:20px"></div>
<div class="abs" style="left:1109px;top:552.4px;width:43px;height:21px;background:#fff;border-top-left-radius:3px;box-shadow:0 0 2px rgba(0,0,0,0.06)"></div>
<svg class="abs" style="left:1112.5px;top:557.8px" width="12" height="12" viewBox="0 0 12 12" fill="none" stroke="#8d9096" stroke-width="0.9"><circle cx="5.6" cy="3.2" r="2.6"/><path d="M4.3 4.5 L6.9 1.9"/><path d="M3.8 6 H7.4 V8.6 H3.8Z" fill="#c9cbcf" stroke="none"/><path d="M0.8 8 V10.6 Q0.8 11.1 1.3 11.1 H9.9 Q10.4 11.1 10.4 10.6 V8" stroke-width="1"/></svg>
<div class="abs" style="left:1127.6px;top:559.6px;font:8.6px/9px 'Liberation Sans',sans-serif;color:#6c6f76">0</div>
<div class="abs" style="left:1142.3px;top:558.6px;width:1.9px;height:1.9px;border-radius:50%;background:#4b5068;box-shadow:0 3.9px 0 #4b5068,0 7.8px 0 #4b5068"></div>
</body></html>
